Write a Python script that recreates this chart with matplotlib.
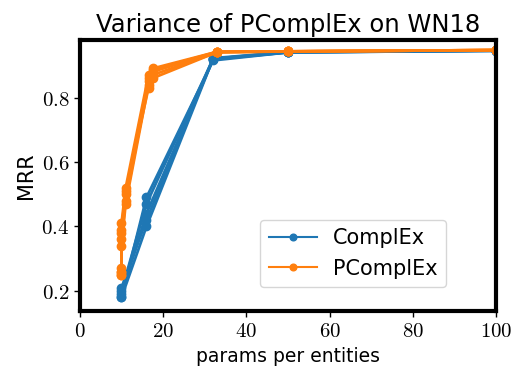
import matplotlib
matplotlib.use("Agg")
import matplotlib.pyplot as plt
from matplotlib.ticker import FuncFormatter

# ComplEx runs: params per entity vs MRR
complex_x = [10, 16, 32, 50, 100]
complex_runs = [
    [0.18, 0.49, 0.915, 0.940, 0.945],
    [0.20, 0.47, 0.920, 0.941, 0.946],
    [0.19, 0.44, 0.918, 0.940, 0.945],
    [0.21, 0.42, 0.922, 0.941, 0.945],
    [0.18, 0.40, 0.920, 0.940, 0.946],
]

# PComplEx runs
pcomplex_x = [10, 10, 11, 16.5, 17.5, 33, 50, 100]
pcomplex_runs = [
    [0.26, 0.41, 0.52, 0.87, 0.89, 0.942, 0.943, 0.947],
    [0.25, 0.38, 0.50, 0.86, 0.88, 0.941, 0.943, 0.947],
    [0.27, 0.36, 0.48, 0.85, 0.87, 0.940, 0.943, 0.947],
    [0.26, 0.34, 0.47, 0.84, 0.86, 0.941, 0.943, 0.947],
    [0.25, 0.39, 0.51, 0.83, 0.885, 0.942, 0.943, 0.947],
]


def plot_variance():
    """Draw the MRR variance chart for ComplEx and PComplEx."""
    plt.rcParams['mathtext.fontset'] = 'cm'
    fig, ax = plt.subplots(figsize=(5.12, 3.68), dpi=100)
    fig.subplots_adjust(left=0.156, right=0.969, top=0.891, bottom=0.155)

    for i, run in enumerate(complex_runs):
        ax.plot(complex_x, run, marker='o', color='#1f77b4', lw=2, ms=6,
                label='ComplEx' if i == 0 else None)
    for i, run in enumerate(pcomplex_runs):
        ax.plot(pcomplex_x, run, marker='o', color='#ff7f0e', lw=2, ms=6,
                label='PComplEx' if i == 0 else None)

    ax.set_xlim(0, 100)
    ax.set_ylim(0.138, 0.978)
    ax.set_yticks([0.2, 0.4, 0.6, 0.8])
    ax.set_xticks([0, 20, 40, 60, 80, 100])
    ax.xaxis.set_major_formatter(FuncFormatter(lambda v, p: f'${v:g}$'))
    ax.yaxis.set_major_formatter(FuncFormatter(lambda v, p: f'${v:.1f}$'))
    ax.tick_params(labelsize=15, width=1, length=4)
    for s in ax.spines.values():
        s.set_linewidth(3)

    ax.set_title('Variance of PComplEx on WN18', fontsize=17.5)
    ax.set_xlabel('params per entities', fontsize=13.5)
    ax.set_ylabel('MRR', fontsize=15)
    leg = ax.legend(loc='lower right', fontsize=15, bbox_to_anchor=(0.905, 0.05),
                    handlelength=2.3, markerscale=0.8)
    for h in leg.get_lines():
        h.set_linewidth(1.5)

    fig.savefig('out.png', dpi=100)


if __name__ == '__main__':
    plot_variance()
